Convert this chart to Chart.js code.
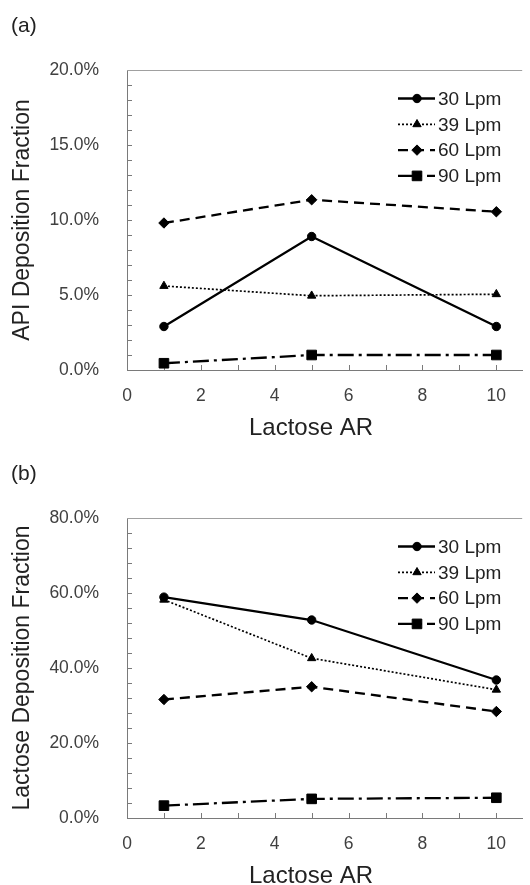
<!DOCTYPE html>
<html>
<head>
<meta charset="utf-8">
<title>API and Lactose Deposition Fraction vs Lactose AR</title>
<script src="https://cdn.jsdelivr.net/npm/chart.js@4/dist/chart.umd.min.js"></script>
<style>
  html, body { margin: 0; padding: 0; background: #fff; width: 530px; height: 885px; overflow: hidden; }
  canvas { position: absolute; left: 0; }
</style>
</head>
<body>
<canvas id="panelA" width="530" height="437" style="top:0px"></canvas>
<canvas id="panelB" width="530" height="437" style="top:448px"></canvas>
<script>
// Lactose aspect ratio (x values shared by every series)
const arValues = [1, 5, 10];
const seriesLabels = ['30 Lpm', '39 Lpm', '60 Lpm', '90 Lpm'];
const xTickValues = [0, 2, 4, 6, 8, 10];

// (a) API deposition fraction, %
const api30 = [2.9, 8.9, 2.9];
const api39 = [5.6, 4.95, 5.05];
const api60 = [9.8, 11.35, 10.55];
const api90 = [0.45, 1.0, 1.0];
const apiTicks = [0, 5, 10, 15, 20];

// (b) Lactose deposition fraction, %
const lac30 = [58.9, 52.8, 36.8];
const lac39 = [58.2, 42.6, 34.2];
const lac60 = [31.6, 35.0, 28.4];
const lac90 = [3.3, 5.1, 5.4];
const lacTicks = [0, 20, 40, 60, 80];

const FONT = '"Liberation Sans", Arial, Helvetica, sans-serif';
const TEXT = '#222';
const TICK_TEXT = '#404040';
const AXIS = '#7a7a7a';

// line / marker look per flow rate
const seriesStyles = [
  { dash: [], width: 2.3, pointStyle: 'circle', radius: 4.2 },
  { dash: [2, 2], width: 1.7, pointStyle: 'triangle', radius: 4.8 },
  { dash: [10, 6], width: 2.3, pointStyle: 'rectRot', radius: 5.2 },
  { dash: [16, 5, 3, 5], width: 2.3, pointStyle: 'rect', radius: 6.8 }
];

function buildDatasets(seriesValues) {
  return seriesValues.map((vals, i) => ({
    label: seriesLabels[i],
    data: arValues.map((x, j) => ({ x: x, y: vals[j] })),
    borderColor: '#000',
    backgroundColor: '#000',
    borderWidth: seriesStyles[i].width,
    borderDash: seriesStyles[i].dash,
    pointStyle: seriesStyles[i].pointStyle,
    pointRadius: seriesStyles[i].radius,
    pointHoverRadius: seriesStyles[i].radius,
    pointBorderWidth: 1,
    tension: 0,
    fill: false
  }));
}

// axis frame, inner tick marks, panel tag, x title and legend
const panelDecor = {
  id: 'panelDecor',
  beforeDatasetsDraw(chart, args, opts) {
    const { ctx, chartArea: a, scales: { x, y } } = chart;
    ctx.save();
    ctx.lineWidth = 1;
    ctx.strokeStyle = '#a0a0a0';
    ctx.beginPath();
    ctx.moveTo(a.left, Math.round(a.top) + 0.5);
    ctx.lineTo(a.right, Math.round(a.top) + 0.5);
    ctx.stroke();

    ctx.strokeStyle = AXIS;
    ctx.beginPath();
    for (let v = y.min + opts.yMinor; v < y.max - 1e-9; v += opts.yMinor) {
      const py = Math.round(y.getPixelForValue(v)) + 0.5;
      ctx.moveTo(a.left, py);
      ctx.lineTo(a.left + 5, py);
    }
    for (let v = 1; v <= 10; v++) {
      const px = Math.round(x.getPixelForValue(v)) + 0.5;
      ctx.moveTo(px, a.bottom);
      ctx.lineTo(px, a.bottom - 5);
    }
    ctx.stroke();
    ctx.restore();
  },
  afterDraw(chart, args, opts) {
    const { ctx } = chart;
    ctx.save();
    ctx.fillStyle = TEXT;
    ctx.textBaseline = 'middle';
    ctx.font = '21px ' + FONT;
    ctx.textAlign = 'left';
    ctx.fillText(opts.tag, 11, 26);

    ctx.font = '24px ' + FONT;
    ctx.textAlign = 'center';
    ctx.fillText(opts.xTitle, 311, 428);

    // legend
    ctx.font = '19px ' + FONT;
    ctx.textAlign = 'left';
    chart.data.datasets.forEach((ds, i) => {
      const rowY = 98.5 + i * 25.8;
      ctx.save();
      ctx.strokeStyle = '#000';
      ctx.lineWidth = ds.borderWidth;
      ctx.setLineDash(ds.borderDash);
      ctx.beginPath();
      ctx.moveTo(398, rowY);
      ctx.lineTo(435, rowY);
      ctx.stroke();
      ctx.setLineDash([]);
      ctx.fillStyle = '#000';
      ctx.strokeStyle = '#000';
      ctx.lineWidth = 1;
      Chart.helpers.drawPoint(ctx, {
        pointStyle: ds.pointStyle,
        radius: ds.pointRadius,
        rotation: 0,
        borderWidth: 1
      }, 417, rowY);
      ctx.restore();
      ctx.fillStyle = TEXT;
      ctx.fillText(ds.label, 438, rowY + 1);
    });
    ctx.restore();
  }
};

function makePanel(canvasId, seriesValues, yTicks, yMinor, yTitle, tag) {
  return new Chart(document.getElementById(canvasId), {
    type: 'line',
    data: { datasets: buildDatasets(seriesValues) },
    plugins: [panelDecor],
    options: {
      responsive: false,
      animation: false,
      events: [],
      layout: { padding: { top: 70, left: 0, right: 3, bottom: 0 } },
      plugins: {
        legend: { display: false },
        tooltip: { enabled: false },
        panelDecor: { yMinor: yMinor, tag: tag, xTitle: 'Lactose AR' }
      },
      scales: {
        x: {
          type: 'linear',
          min: 0,
          max: 10.7,
          afterBuildTicks: s => { s.ticks = xTickValues.map(v => ({ value: v })); },
          afterFit: s => { s.height = 67; },
          grid: { display: false },
          border: { display: true, color: AXIS, width: 1 },
          ticks: {
            autoSkip: false,
            maxRotation: 0,
            padding: 8,
            color: TICK_TEXT,
            font: { family: FONT, size: 17.5 }
          }
        },
        y: {
          type: 'linear',
          min: yTicks[0],
          max: yTicks[yTicks.length - 1],
          afterBuildTicks: s => { s.ticks = yTicks.map(v => ({ value: v })); },
          afterFit: s => { s.width = 127; },
          grid: { display: false },
          border: { display: true, color: AXIS, width: 1 },
          ticks: {
            padding: 20,
            color: TICK_TEXT,
            font: { family: FONT, size: 17.5 },
            callback: v => Number(v).toFixed(1) + '%'
          },
          title: {
            display: true,
            text: yTitle,
            color: TEXT,
            font: { family: FONT, size: 23 },
            padding: { top: 9, bottom: 0 }
          }
        }
      }
    }
  });
}

makePanel('panelA', [api30, api39, api60, api90], apiTicks, 1, 'API Deposition Fraction', '(a)');
makePanel('panelB', [lac30, lac39, lac60, lac90], lacTicks, 4, 'Lactose Deposition Fraction', '(b)');
</script>
</body>
</html>
